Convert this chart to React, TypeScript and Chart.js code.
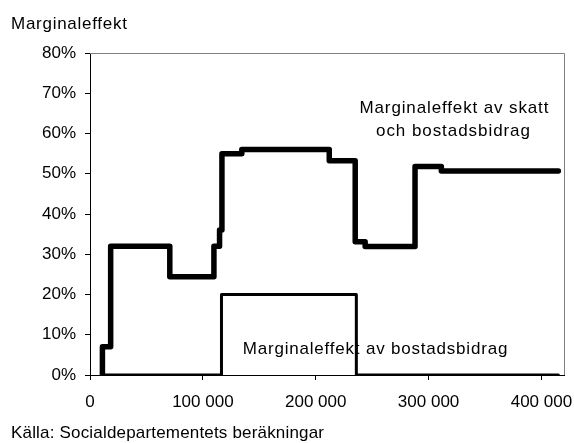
import React, { useEffect, useRef } from "react";
import { Chart, registerables } from "chart.js";

Chart.register(...registerables);

// Income (kr) where each marginal-effect level starts
const TOTAL_X = [11000, 11000, 18300, 70700, 109800, 114800, 116900, 134500, 212000, 235000, 243800, 288000, 311300, 415000];
// Marginal effect of tax and housing allowance (%)
const TOTAL_Y = [0, 7, 32, 24.4, 32, 36, 55, 56, 53.2, 33.1, 31.9, 51.8, 50.7, 50.7];

const HOUSING_X = [11000, 116500, 236000, 415000];
// Marginal effect of housing allowance (%)
const HOUSING_Y = [0, 20, 0, 0];

const X_TICKS = [0, 100000, 200000, 300000, 400000];
const Y_TICKS = [0, 10, 20, 30, 40, 50, 60, 70, 80];

const Y_TITLE = "Marginaleffekt";
const SOURCE = "Källa: Socialdepartementets beräkningar";
const LABEL_TOTAL_1 = "Marginaleffekt av skatt";
const LABEL_TOTAL_2 = "och bostadsbidrag";
const LABEL_HOUSING = "Marginaleffekt av bostadsbidrag";

const FONT = '"Liberation Sans", Arial, sans-serif';

function fmtThousands(v: number): string {
  if (v === 0) return "0";
  const s = String(Math.round(v));
  return s.replace(/\B(?=(\d{3})+(?!\d))/g, " ");
}

function drawFitted(ctx: CanvasRenderingContext2D, text: string, left: number, baseline: number, width: number) {
  ctx.save();
  (ctx as any).letterSpacing = "0px";
  const w0 = ctx.measureText(text).width;
  const sp = Math.max(0, (width - w0) / Math.max(1, text.length - 1));
  (ctx as any).letterSpacing = sp.toFixed(2) + "px";
  ctx.textAlign = "left";
  ctx.textBaseline = "alphabetic";
  ctx.fillText(text, left, baseline);
  ctx.restore();
}

const textPlugin = {
  id: "texts",
  beforeDatasetsDraw(chart: any) {
    const { ctx, chartArea } = chart;
    ctx.save();
    ctx.strokeStyle = "#808080";
    ctx.lineWidth = 1;
    ctx.beginPath();
    ctx.moveTo(chartArea.left, Math.round(chartArea.top) + 0.5);
    ctx.lineTo(Math.round(chartArea.right) + 0.5, Math.round(chartArea.top) + 0.5);
    ctx.lineTo(Math.round(chartArea.right) + 0.5, chartArea.bottom);
    ctx.stroke();
    ctx.restore();
  },
  afterDraw(chart: any) {
    const { ctx } = chart;
    ctx.save();
    ctx.fillStyle = "#000";
    ctx.font = "17px " + FONT;
    drawFitted(ctx, Y_TITLE, 11, 28.5, 116);
    drawFitted(ctx, SOURCE, 11, 438.3, 313);
    drawFitted(ctx, LABEL_TOTAL_1, 359.5, 113.3, 189);
    drawFitted(ctx, LABEL_TOTAL_2, 376, 136, 154);
    drawFitted(ctx, LABEL_HOUSING, 242.7, 354.3, 264.6);
    ctx.restore();
  },
};

export default function App() {
  const ref = useRef<HTMLCanvasElement | null>(null);

  useEffect(() => {
    document.body.style.margin = "0";
    const canvas = ref.current;
    if (!canvas) return;
    Chart.defaults.font.family = FONT;
    Chart.defaults.font.size = 17;
    Chart.defaults.color = "#000";

    const chart = new Chart(canvas, {
      type: "line",
      data: {
        datasets: [
          {
            label: "Marginaleffekt av skatt och bostadsbidrag",
            data: TOTAL_X.map((x, i) => ({ x, y: TOTAL_Y[i] })),
            borderColor: "#000",
            borderWidth: 5.5,
            stepped: "before",
            pointRadius: 0,
            borderJoinStyle: "round",
            borderCapStyle: "round",
            fill: false,
            order: 0,
          },
          {
            label: "Marginaleffekt av bostadsbidrag",
            data: HOUSING_X.map((x, i) => ({ x, y: HOUSING_Y[i] })),
            borderColor: "#000",
            borderWidth: 3,
            stepped: "before",
            pointRadius: 0,
            borderJoinStyle: "round",
            borderCapStyle: "round",
            fill: false,
            order: 1,
          },
        ],
      },
      options: {
        responsive: false,
        animation: false,
        devicePixelRatio: 1,
        layout: { padding: { top: 53, right: 10, left: 0, bottom: 0 } },
        plugins: {
          legend: { display: false },
          tooltip: { enabled: false },
          title: { display: false },
        },
        scales: {
          x: {
            type: "linear",
            min: 0,
            max: 420000,
            grid: { drawOnChartArea: false, drawTicks: true, tickLength: 5, color: "#000" },
            border: { display: true, color: "#000", width: 1 },
            ticks: {
              padding: 12,
              maxRotation: 0,
              autoSkip: false,
              callback: (v: any) => fmtThousands(Number(v)),
            },
            afterBuildTicks: (scale: any) => {
              scale.ticks = X_TICKS.map((value) => ({ value }));
            },
            afterFit: (scale: any) => {
              scale.height = 68;
              scale.paddingLeft = 0;
              scale.paddingRight = 0;
            },
          },
          y: {
            type: "linear",
            min: 0,
            max: 80,
            grid: { drawOnChartArea: false, drawTicks: true, tickLength: 5, color: "#000" },
            border: { display: true, color: "#000", width: 1 },
            ticks: {
              padding: 9,
              autoSkip: false,
              callback: (v: any) => v + "%",
            },
            afterBuildTicks: (scale: any) => {
              scale.ticks = Y_TICKS.map((value) => ({ value }));
            },
            afterFit: (scale: any) => {
              scale.width = 90;
              scale.paddingTop = 0;
              scale.paddingBottom = 0;
            },
          },
        },
      },
      plugins: [textPlugin],
    } as any);

    return () => chart.destroy();
  }, []);

  return (
    <div style={{ position: "absolute", left: 0, top: 0, width: 574, height: 443, background: "#fff" }}>
      <canvas ref={ref} width={574} height={443} style={{ display: "block" }} />
    </div>
  );
}
